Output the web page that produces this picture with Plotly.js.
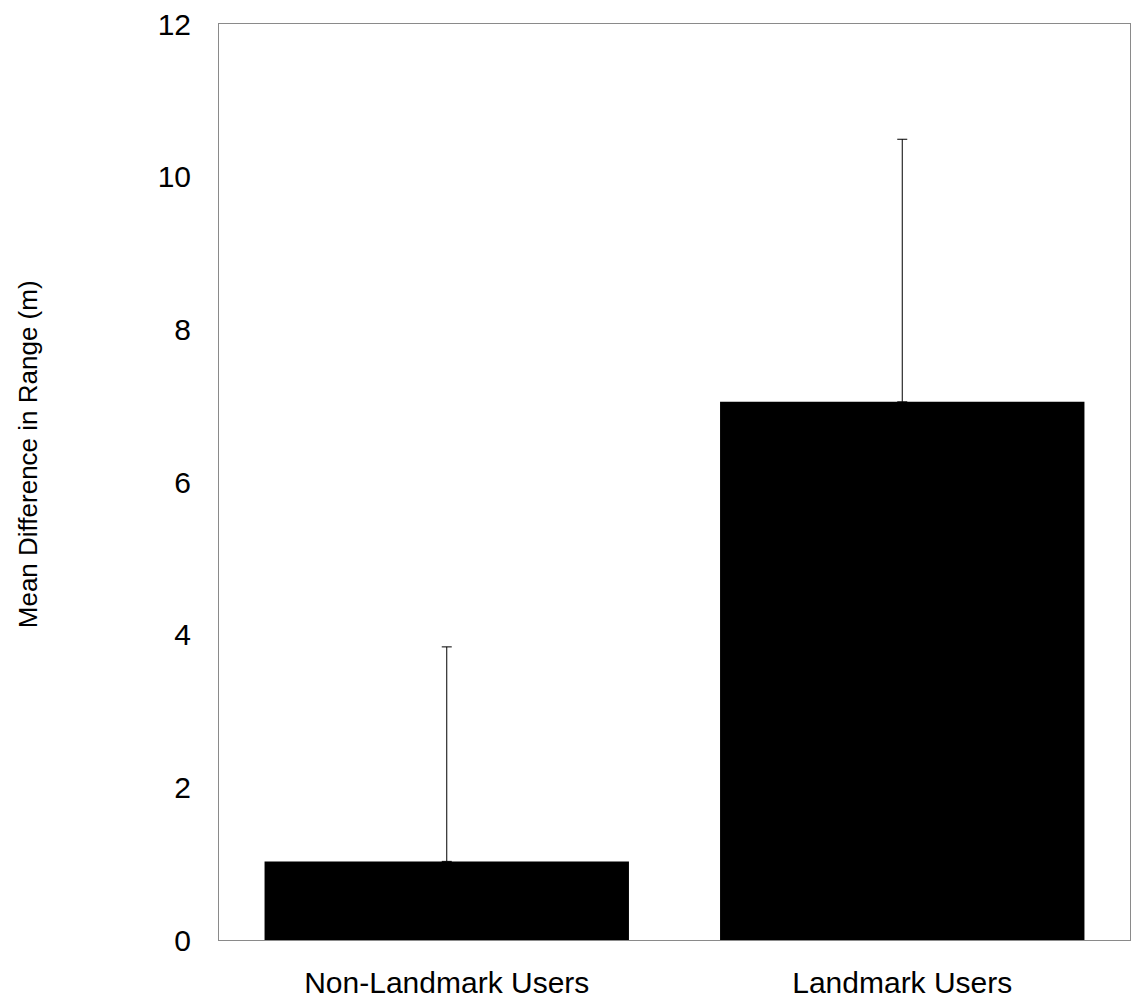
<!DOCTYPE html>
<html>
<head>
<meta charset="utf-8">
<script src="https://cdn.plot.ly/plotly-3.0.1.min.js"></script>
<style>html,body{margin:0;padding:0;background:#fff;}#chart{width:1137px;height:1001px;}</style>
</head>
<body>
<div id="chart"></div>
<script>
var categories = ["Non-Landmark Users", "Landmark Users"];
var meanValues = [1.03, 7.05];
var errorPlus = [2.81, 3.44];
var yTickValues = [0, 2, 4, 6, 8, 10, 12];
var yTitle = "Mean Difference in Range (m)";

var fontFamily = "Liberation Sans, Arial, Helvetica, sans-serif";

var trace = {
  type: "bar",
  x: categories,
  y: meanValues,
  marker: {color: "#000000", line: {width: 0}},
  error_y: {
    type: "data",
    symmetric: false,
    array: errorPlus,
    arrayminus: [0, 0],
    color: "#000000",
    thickness: 1,
    width: 5
  },
  hoverinfo: "none"
};

var layout = {
  width: 1137,
  height: 1001,
  margin: {l: 219, r: 7, t: 24, b: 61},
  paper_bgcolor: "#ffffff",
  plot_bgcolor: "#ffffff",
  font: {family: fontFamily, color: "#000000", size: 28},
  bargap: 0.2,
  showlegend: false,
  xaxis: {
    type: "category",
    showgrid: false,
    zeroline: false,
    showline: true,
    mirror: true,
    linecolor: "#8a8a8a",
    linewidth: 1,
    ticks: "",
    ticklabelstandoff: 16,
    tickfont: {size: 30, family: fontFamily, color: "#000"}
  },
  yaxis: {
    range: [0, 12],
    tickvals: yTickValues,
    ticktext: yTickValues.map(String),
    showgrid: false,
    zeroline: false,
    showline: true,
    mirror: true,
    linecolor: "#8a8a8a",
    linewidth: 1,
    ticks: "",
    ticklabelstandoff: 21,
    tickfont: {size: 30, family: fontFamily, color: "#000"}
  },
  annotations: [{
    text: yTitle,
    xref: "paper",
    yref: "paper",
    x: -0.21,
    y: 0.53,
    xanchor: "center",
    yanchor: "middle",
    textangle: -90,
    showarrow: false,
    font: {size: 26, family: fontFamily, color: "#000"}
  }]
};

Plotly.newPlot("chart", [trace], layout, {displayModeBar: false, staticPlot: true});
</script>
</body>
</html>
